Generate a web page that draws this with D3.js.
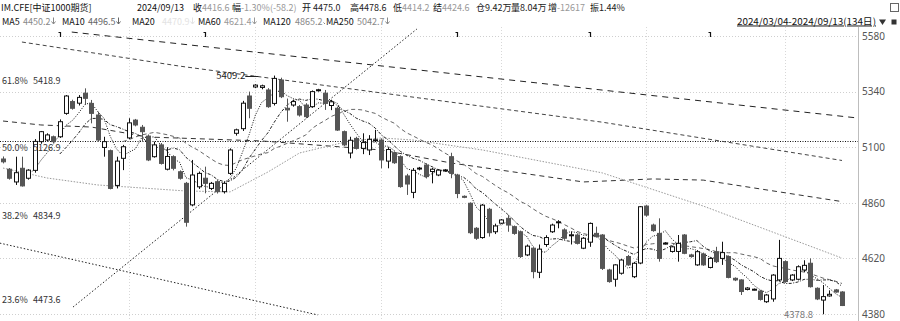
<!DOCTYPE html>
<html>
<head>
<meta charset="utf-8">
<script src="https://cdn.jsdelivr.net/npm/d3@7"></script>
<style>
  body { margin: 0; background: #fff; }
  svg text { font-family: "Noto Sans CJK SC", "Noto Sans", sans-serif; }
</style>
</head>
<body>
<div id="chart"></div>
<script>
// daily bars IM.CFE 2024/03/04 - 2024/09/13 (134 days)
var opens = [5049,5005,4950,5009,4966,5000,5124,5131,5145,5145,5246,5297,5290,5333,5289,5239,5099,5085,4935,5052,
  5140,5217,5186,5148,5059,5110,5005,5059,4994,4944,4851,4929,4966,4922,4951,4908,4987,5160,5180,5321,
  5360,5358,5347,5289,5390,5268,5282,5275,5282,5275,5347,5333,5280,5268,5167,5075,5138,5095,5088,5128,
  5131,5040,5076,5059,4976,4905,5008,5023,4995,4980,5000,5059,4980,4888,4858,4750,4710,4832,4735,
  4772,4793,4757,4735,4635,4664,4560,4680,4735,4775,4743,4720,4721,4664,4690,4728,4721,4570,4530,4556,4628,4541,4600,
  4846,4764,4728,4684,4650,4650,4721,4635,4592,4639,4581,4649,4620,4628,4534,4527,4486,4486,4479,4433,4445,4527,
  4606,4527,4530,4570,4599,4491,4440,4458,4484,4475.0];
var highs = [5060,5010,5059,5059,5005,5135,5170,5160,5150,5220,5325,5305,5325,5354,5304,5253,5145,5090,5059,5110,
  5225,5222,5196,5155,5124,5118,5100,5065,5000,4950,5045,4995,5016,4950,4958,4950,5095,5180,5300,5340,
  5372,5370,5355,5409.2,5400,5310,5305,5282,5290,5345,5352,5347,5305,5275,5172,5145,5145,5160,5152,5175,
  5138,5100,5082,5065,4985,5010,5015,5030,5010,5005,5006,5076,4985,4892,4862,4755,4855,4838,4770,
  4790,4807,4762,4740,4680,4668,4680,4720,4770,4785,4750,4735,4728,4712,4775,4757,4725,4575,4595,4618,4635,4605,4846,
  4850,4770,4793,4690,4675,4721,4725,4640,4655,4645,4625,4670,4692,4633,4538,4530,4496,4490,4483,4466,4552,4700,
  4612,4552,4590,4612,4620,4495,4505,4482,4488,4478.6];
var lows = [5030,4960,4937,4930,4960,4990,5115,5125,5118,5140,5240,5262,5280,5282,5203,5124,5059,4918,4922,5001,
  5135,5190,5124,5040,5055,5025,5000,5000,4960,4757,4845,4920,4901,4915,4900,4900,4980,5150,5170,5225,
  5355,5350,5270,5280,5312,5210,5275,5232,5225,5270,5340,5261,5260,5170,5105,5052,5090,5070,5066,5124,
  5009,5009,5028,4925,4894,4880,5000,4965,4944,4975,4995,4966,4880,4880,4725,4700,4705,4714,4725,
  4768,4735,4722,4622,4630,4534,4535,4670,4730,4750,4700,4680,4680,4660,4670,4710,4570,4515,4498,4550,4588,4535,4595,
  4800,4735,4606,4680,4645,4606,4638,4623,4588,4588,4577,4600,4592,4534,4522,4462,4482,4482,4438,4428,4433,4520,
  4515,4522,4525,4560,4494,4440,4378.8,4455,4472,4414.2];
var closes = [5037,4966,4990,4933,5001,5125,5167,5153,5124,5210,5321,5268,5315,5311,5246,5131,5124,4922,5040,5102,
  5205,5196,5167,5045,5110,5030,5060,5009,4966,4776,4980,4987,4944,4944,4908,4944,5088,5175,5290,5268,
  5368,5365,5275,5397,5318,5261,5297,5239,5232,5340,5348,5289,5296,5174,5110,5130,5095,5120,5134,5132,
  5045,5090,5033,4930,4941,5000,5010,4973,5005,5001,5002,4987,4900,4886,4731,4707,4850,4731,4760,
  4786,4764,4728,4628,4673,4563,4660,4710,4764,4778,4707,4722,4685,4707,4771,4714,4577,4520,4592,4613,4592,4599,4843,
  4807,4740,4620,4686,4670,4685,4642,4628,4649,4592,4620,4606,4645,4538,4527,4477,4492,4487,4443,4462,4548,4620,
  4520,4548,4584,4590,4498,4445,4455,4465,4474.8,4416.6];

// long moving averages (bar index, value)
var ma60Bars = [0, 7, 15, 29, 36, 42, 47, 55, 60, 65, 76, 95, 111, 133];
var ma60Vals = [5010, 4967, 4937, 4911, 4907, 4993, 5075, 5127, 5140, 5131, 5088, 4989, 4846, 4621.4];
var ma120Bars = [0, 6, 14, 23, 41, 60, 71, 92, 103, 111, 133];
var ma120Vals = [5213, 5196, 5187, 5144, 5127, 5088, 5032, 4950, 4963, 4958, 4865.2];
var ma250Bars = [3, 28, 47, 95, 133];
var ma250Vals = [5554, 5450, 5381, 5208, 5042.7];

// drawn objects (bar index, price)
var trendA = [[10.9, 5597], [135.5, 5226]];
var trendUp = [[11.1, 4410], [65.6, 5610]];
var trendDown = [[-0.5, 4686], [49.9, 4376]];
var fibLevels = [61.8, 50.0, 38.2, 23.6];
var fibValues = [5418.9, 5126.9, 4834.9, 4473.6];

var monthStarts = [20, 40, 60, 79, 102, 124];
var eventBars = [9, 32, 72, 93, 112];
var yTicks = [5580, 5340, 5100, 4860, 4620, 4380];

// quote line and MA legend texts
var quoteLabels = ["收", "幅", "开", "高", "低", "结", "仓", "量", "增", "振"];
var quoteValues = ["4416.6", "-1.30%(-58.2)", "4475.0", "4478.6", "4414.2", "4424.6", "9.42万", "8.04万", "-12617", "1.44%"];
var maNames = ["MA5", "MA10", "MA20", "MA60", "MA120", "MA250"];
var maValues = ["4450.2", "4496.5", "4470.9", "4621.4", "4865.2", "5042.7"];

var svgWidth = 900, svgHeight = 321;
var plot = { left: 0, right: 858, top: 27, bottom: 321 };

var svg = d3.select("#chart").append("svg")
  .attr("width", svgWidth)
  .attr("height", svgHeight);

var x = d3.scaleLinear().domain([0, closes.length - 1]).range([3, 842]);
var y = d3.scaleLinear().domain([4380, 5580]).range([314, 36]);

svg.append("clipPath").attr("id", "plotClip")
  .append("rect")
  .attr("x", plot.left).attr("y", plot.top)
  .attr("width", plot.right - plot.left).attr("height", plot.bottom - plot.top);

// grid
var grid = svg.append("g");
grid.selectAll(".hgrid").data(yTicks).enter().append("line")
  .attr("x1", plot.left).attr("x2", plot.right)
  .attr("y1", d => Math.round(y(d)) + 0.5).attr("y2", d => Math.round(y(d)) + 0.5)
  .attr("stroke", "#cfcfcf").attr("stroke-dasharray", "1,2");
grid.selectAll(".vgrid").data(monthStarts).enter().append("line")
  .attr("x1", d => Math.round(x(d)) + 0.5).attr("x2", d => Math.round(x(d)) + 0.5)
  .attr("y1", plot.top).attr("y2", plot.bottom)
  .attr("stroke", "#d8d8d8").attr("stroke-dasharray", "1,2");

// y axis on the right
var axis = svg.append("g")
  .attr("transform", `translate(${plot.right}, 0)`)
  .call(d3.axisRight(y).tickValues(yTicks).tickFormat(d3.format("d")).tickSize(0).tickPadding(4));
axis.select(".domain").remove();
axis.selectAll("text").attr("font-size", 10).attr("fill", "#555")
  .style("font-family", "'Noto Sans', sans-serif");
svg.append("line")
  .attr("x1", plot.right + 0.5).attr("x2", plot.right + 0.5)
  .attr("y1", plot.top).attr("y2", plot.bottom)
  .attr("stroke", "#bdbdbd");

var chart = svg.append("g").attr("clip-path", "url(#plotClip)");

// fib 50% line
chart.append("line")
  .attr("x1", plot.left).attr("x2", plot.right)
  .attr("y1", Math.round(y(fibValues[1])) + 0.5).attr("y2", Math.round(y(fibValues[1])) + 0.5)
  .attr("stroke", "#111").attr("stroke-dasharray", "1,1.5");

// trend lines
function segment(pts, dash, color) {
  chart.append("line")
    .attr("x1", x(pts[0][0])).attr("y1", y(pts[0][1]))
    .attr("x2", x(pts[1][0])).attr("y2", y(pts[1][1]))
    .attr("stroke", color).attr("stroke-dasharray", dash);
}
segment(trendA, "6,5", "#222");
segment(trendUp, "1.5,2", "#222");
segment(trendDown, "1.5,2", "#222");

// moving averages
function movingAvg(n) {
  return closes.map((c, i) => i < n - 1 ? null : d3.mean(closes.slice(i - n + 1, i + 1)));
}
var line = d3.line().defined(d => d != null).x((d, i) => x(i)).y(d => y(d));
var sampled = d3.line().x(d => x(d[0])).y(d => y(d[1]));

chart.append("path").attr("d", sampled(d3.zip(ma250Bars, ma250Vals)))
  .attr("fill", "none").attr("stroke", "#444").attr("stroke-dasharray", "4,3");
chart.append("path").attr("d", sampled(d3.zip(ma120Bars, ma120Vals)))
  .attr("fill", "none").attr("stroke", "#333").attr("stroke-dasharray", "5,4");
chart.append("path").attr("d", sampled(d3.zip(ma60Bars, ma60Vals)))
  .attr("fill", "none").attr("stroke", "#999").attr("stroke-dasharray", "1.5,1.5");
chart.append("path").attr("d", line(movingAvg(20)))
  .attr("fill", "none").attr("stroke", "#666").attr("stroke-dasharray", "4,3");
chart.append("path").attr("d", line(movingAvg(10)))
  .attr("fill", "none").attr("stroke", "#222").attr("stroke-dasharray", "3,1.5,1,1.5");
chart.append("path").attr("d", line(movingAvg(5)))
  .attr("fill", "none").attr("stroke", "#111").attr("stroke-dasharray", "1,1.5");

// candles
var bars = d3.range(closes.length);
var candle = chart.selectAll(".candle").data(bars).enter().append("g");
candle.append("line")
  .attr("x1", i => Math.round(x(i)) + 0.5).attr("x2", i => Math.round(x(i)) + 0.5)
  .attr("y1", i => y(highs[i])).attr("y2", i => y(lows[i]))
  .attr("stroke", i => closes[i] >= opens[i] ? "#111" : "#555");
candle.append("rect")
  .attr("x", i => Math.round(x(i)) - 1.5)
  .attr("y", i => y(Math.max(opens[i], closes[i])))
  .attr("width", 4)
  .attr("height", i => Math.max(1, Math.abs(y(opens[i]) - y(closes[i]))))
  .attr("fill", i => closes[i] >= opens[i] ? "#fff" : "#555")
  .attr("stroke", i => closes[i] >= opens[i] ? "#111" : "#555")
  .attr("stroke-width", 1);

// event markers along the top
chart.selectAll(".evt").data(eventBars).enter().append("path")
  .attr("d", i => { var px = Math.round(x(i)) + 0.5; return `M${px - 2},32.5H${px}V37`; })
  .attr("fill", "none").attr("stroke", "#111").attr("stroke-width", 1.2);

// fib labels
var fibG = svg.append("g").attr("font-size", 9).attr("fill", "#333");
fibG.selectAll(".fp").data(fibLevels).enter().append("text")
  .attr("x", 2).attr("y", (d, i) => y(fibValues[i]) + 10.5)
  .text(d => d.toFixed(1) + "%");
fibG.selectAll(".fv").data(fibValues).enter().append("text")
  .attr("x", 33).attr("y", d => y(d) + 10.5)
  .text(d => d.toFixed(1));

// high / low marks
var hiBar = d3.maxIndex(highs), loBar = d3.minIndex(lows);
svg.append("text").attr("x", x(hiBar) - 29).attr("y", y(highs[hiBar]) + 3.5)
  .attr("text-anchor", "end").attr("font-size", 9.5).attr("fill", "#222")
  .text(highs[hiBar].toFixed(1));
svg.append("line")
  .attr("x1", x(hiBar) - 29).attr("x2", x(hiBar) - 16)
  .attr("y1", Math.round(y(highs[hiBar])) + 0.5).attr("y2", Math.round(y(highs[hiBar])) + 0.5)
  .attr("stroke", "#222");
svg.append("text").attr("x", x(loBar) - 10).attr("y", y(lows[loBar]) + 3.5)
  .attr("text-anchor", "end").attr("font-size", 9.5).attr("fill", "#777")
  .text(lows[loBar].toFixed(1));

// header row 1
var head = svg.append("g").attr("font-size", 9);
head.append("text").attr("x", 1).attr("y", 10.5).attr("fill", "#111").text("IM.CFE[中证1000期货]");
head.append("text").attr("x", 137).attr("y", 10.5).attr("fill", "#111").text("2024/09/13");
var labelX = [193, 232, 302, 350, 393, 433, 476, 511, 548, 590];
var valueX = [202, 241, 313, 359, 402, 442, 485, 520, 557, 599];
var valueColor = ["#999", "#999", "#222", "#222", "#999", "#999", "#222", "#222", "#999", "#222"];
head.selectAll(".ql").data(quoteLabels).enter().append("text")
  .attr("x", (d, i) => labelX[i]).attr("y", 10.5).attr("fill", "#111").text(d => d);
head.selectAll(".qv").data(quoteValues).enter().append("text")
  .attr("x", (d, i) => valueX[i]).attr("y", 10.5).attr("fill", (d, i) => valueColor[i]).text(d => d);

// header row 2: MA legend, arrows drawn as small glyph paths
var maNameX = [2, 62, 132, 198, 263, 326];
var maValueX = [23, 88, 162, 224, 295, 357];
var maValueColor = ["#888", "#666", "#e3e3e3", "#999", "#888", "#888"];
var legend = svg.append("g").attr("font-size", 9);
legend.selectAll(".mn").data(maNames).enter().append("text")
  .attr("x", (d, i) => maNameX[i]).attr("y", 24.5).attr("fill", "#111").text(d => d);
legend.selectAll(".mv").data(maValues).enter().append("text")
  .attr("x", (d, i) => maValueX[i]).attr("y", 24.5).attr("fill", (d, i) => maValueColor[i]).text(d => d);
legend.selectAll(".ma").data(maValues).enter().append("path")
  .attr("d", (d, i) => {
    var ax = maValueX[i] + 28.5;
    if (i === 4) return `M${ax},22.5l1.5,1.5`;
    return `M${ax + 2},17.5V24M${ax},21.5L${ax + 2},24L${ax + 4},21.5`;
  })
  .attr("fill", "none").attr("stroke", (d, i) => maValueColor[i]).attr("stroke-width", 1);

// period selector top right
svg.append("text").attr("x", 737).attr("y", 24.5).attr("font-size", 9.5).attr("fill", "#111")
  .attr("text-decoration", "underline")
  .attr("textLength", 139).attr("lengthAdjust", "spacingAndGlyphs")
  .text("2024/03/04-2024/09/13(134日)");
svg.append("path").attr("d", "M879,19.5H886L882.5,25Z").attr("fill", "#333");
svg.append("rect").attr("x", 891.5).attr("y", 19.5).attr("width", 5).attr("height", 5)
  .attr("fill", "#333");
svg.append("rect").attr("x", 890.5).attr("y", 3.5).attr("width", 8).attr("height", 8)
  .attr("fill", "none").attr("stroke", "#666");
</script>
</body>
</html>
